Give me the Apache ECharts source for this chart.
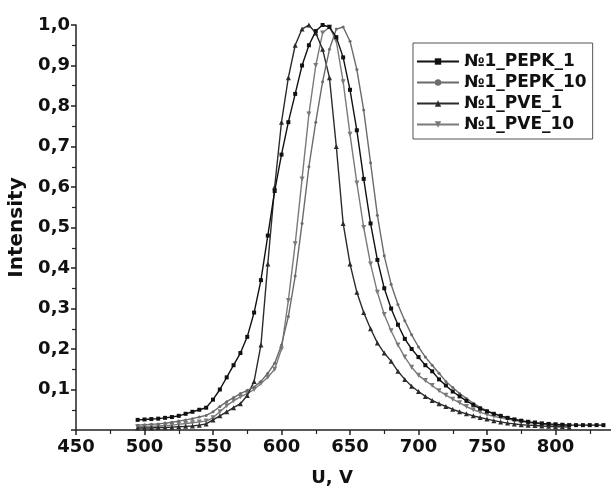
<!DOCTYPE html>
<html>
<head>
<meta charset="utf-8">
<title>Intensity</title>
<script src="https://cdn.jsdelivr.net/npm/echarts@6/dist/echarts.min.js"></script>
<style>
  html, body { margin: 0; padding: 0; background: #fff; }
  #main { width: 611px; height: 493px; }
</style>
</head>
<body>
<div id="main"></div>
<script>
// wavelength, nm
var wl = [495, 500, 505, 510, 515, 520, 525, 530, 535, 540, 545, 550, 555, 560, 565, 570, 575, 580, 585, 590,
          595, 600, 605, 610, 615, 620, 625, 630, 635, 640, 645, 650, 655, 660, 665, 670, 675, 680, 685, 690,
          695, 700, 705, 710, 715, 720, 725, 730, 735, 740, 745, 750, 755, 760, 765, 770, 775, 780, 785, 790,
          795, 800, 805, 810, 815, 820, 825, 830, 835];

var pepk1 = [.025, .026, .027, .028, .030, .032, .035, .040, .045, .050, .055, .075, .100, .130, .160, .190, .230, .290, .370, .480,
             .590, .680, .760, .830, .900, .950, .985, 1.0, .995, .970, .920, .840, .740, .620, .510, .420, .350, .300, .260, .225,
             .200, .180, .160, .145, .125, .110, .095, .083, .072, .062, .053, .046, .040, .035, .030, .026, .023, .020, .018, .016,
             .015, .014, .013, .012, .012, .012, .012, .012, .012];

var pepk10 = [.012, .013, .014, .015, .017, .019, .022, .025, .028, .032, .036, .045, .058, .070, .080, .090, .098, .106, .120, .140,
              .165, .210, .280, .380, .510, .650, .760, .860, .940, .990, .995, .960, .890, .790, .660, .530, .430, .360, .310, .270,
              .235, .205, .180, .160, .140, .120, .105, .090, .078, .066, .056, .048, .041, .035, .030, .026, .022, .019, .017, .015,
              .013, .012, .011, .010, null, null, null, null, null];

var pve1 = [.005, .005, .005, .006, .006, .007, .008, .009, .010, .012, .015, .025, .035, .045, .055, .065, .085, .120, .210, .410,
            .600, .760, .870, .950, .990, 1.0, .980, .940, .870, .700, .510, .410, .340, .290, .250, .215, .190, .170, .145, .125,
            .108, .095, .083, .073, .065, .058, .051, .045, .040, .035, .031, .027, .023, .020, .017, .015, .013, .012, .011, .010,
            .009, .008, .008, .007, null, null, null, null, null];

var pve10 = [.008, .008, .009, .010, .011, .012, .014, .016, .018, .020, .022, .030, .045, .060, .072, .082, .090, .100, .115, .130,
             .150, .200, .320, .460, .620, .780, .900, .980, .995, .960, .860, .730, .610, .500, .410, .340, .285, .245, .210, .180,
             .155, .135, .122, .110, .097, .086, .076, .067, .058, .050, .044, .038, .034, .030, .027, .024, .021, .019, .017, .015,
             .013, .012, .011, .010, null, null, null, null, null];

var names = ['№1_PEPK_1', '№1_PEPK_10', '№1_PVE_1', '№1_PVE_10'];
var values = [pepk1, pepk10, pve1, pve10];
var colors = ['#111111', '#6b6b6b', '#2b2b2b', '#7a7a7a'];
var symbols = ['rect', 'circle', 'triangle', 'path://M0,0 L10,0 L5,9 Z'];
var sizes = [4, 3, 5, 5];

var font = 'DejaVu Sans, sans-serif';

function pairs(vals) {
    var out = [];
    for (var i = 0; i < wl.length; i++) {
        if (vals[i] != null) out.push([wl[i], vals[i]]);
    }
    return out;
}

function makeSeries() {
    var list = [];
    for (var i = 0; i < names.length; i++) {
        list.push({
            name: names[i],
            type: 'line',
            data: pairs(values[i]),
            symbol: symbols[i],
            symbolSize: sizes[i],
            showSymbol: true,
            showAllSymbol: true,
            itemStyle: { color: colors[i] },
            lineStyle: { color: colors[i], width: 1.4 },
            z: 10 - i
        });
    }
    return list;
}

function makeimage() {
    var myChart = echarts.init(document.getElementById('main'));
    myChart.setOption({
        animation: false,
        backgroundColor: '#fff',
        grid: { left: 76, top: 25, width: 548, height: 405, containLabel: false, outerBoundsMode: 'none' },
        legend: {
            orient: 'vertical',
            left: 413,
            top: 43,
            padding: [10, 6, 6, 3],
            itemGap: 4,
            itemWidth: 42,
            itemHeight: 8,
            borderColor: '#555',
            borderWidth: 1,
            data: names,
            textStyle: { fontFamily: font, fontWeight: 'bold', fontSize: 17, lineHeight: 17, color: '#111' }
        },
        xAxis: {
            type: 'value',
            min: 450,
            max: 850,
            interval: 50,
            name: 'U, V',
            nameLocation: 'middle',
            nameGap: 39,
            // label sits a bit left of the axis middle
            nameTextStyle: { fontFamily: font, fontWeight: 'bold', fontSize: 18, color: '#111', padding: [0, 36, 0, 0] },
            axisLine: { lineStyle: { color: '#222', width: 1.5 } },
            axisTick: { length: 5, lineStyle: { color: '#222', width: 1.5 } },
            minorTick: { show: true, splitNumber: 2, length: 4, lineStyle: { color: '#222', width: 1.2 } },
            splitLine: { show: false },
            axisLabel: { margin: 8, showMaxLabel: false, fontFamily: font, fontWeight: 'bold', fontSize: 18, color: '#111' }
        },
        yAxis: {
            type: 'value',
            min: 0,
            max: 1,
            interval: 0.1,
            name: 'Intensity',
            nameLocation: 'middle',
            nameGap: 48,
            nameTextStyle: { fontFamily: font, fontWeight: 'bold', fontSize: 20, color: '#111' },
            axisLine: { show: true, lineStyle: { color: '#222', width: 1.5 } },
            axisTick: { show: true, length: 5, lineStyle: { color: '#222', width: 1.5 } },
            minorTick: { show: true, splitNumber: 2, length: 4, lineStyle: { color: '#222', width: 1.2 } },
            splitLine: { show: false },
            axisLabel: {
                margin: 6,
                fontFamily: font, fontWeight: 'bold', fontSize: 18, color: '#111',
                formatter: function (v) {
                    if (v == 0) return '';
                    return v.toFixed(1).replace('.', ',');
                }
            }
        },
        series: makeSeries()
    });
}

makeimage();
</script>
</body>
</html>
